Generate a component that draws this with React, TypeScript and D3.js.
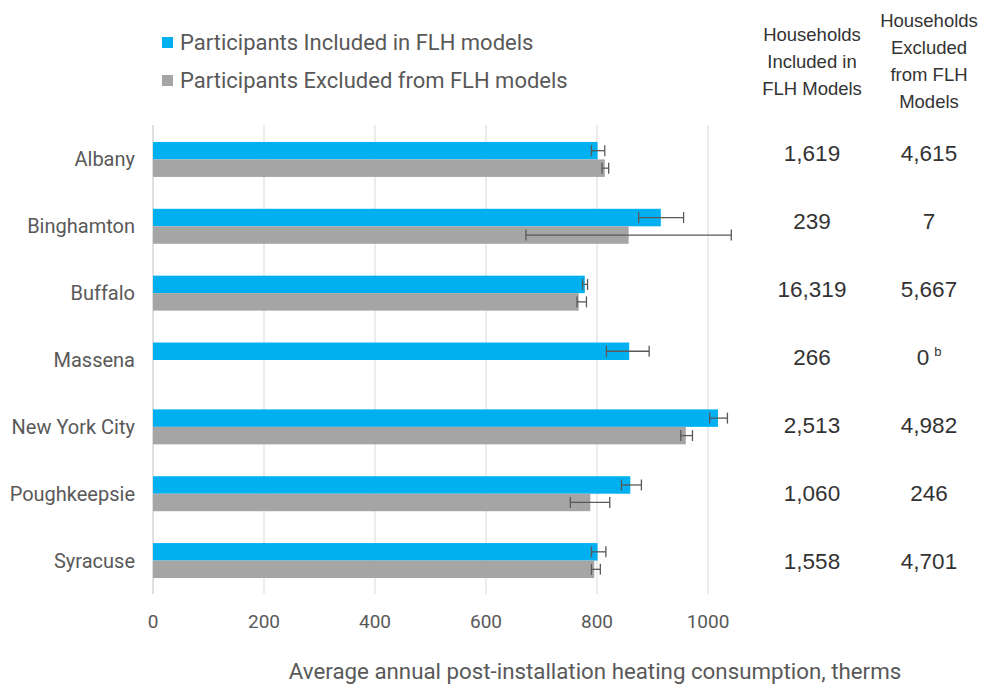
import React from "react";
import * as d3 from "d3";

const categories = ["Albany", "Binghamton", "Buffalo", "Massena", "New York City", "Poughkeepsie", "Syracuse"];
const includedMean = [801, 915, 778, 858, 1018, 860, 801];
const includedLow = [790, 875, 774, 817, 1003, 844, 790];
const includedHigh = [814, 956, 783, 894, 1035, 880, 816];
const excludedMean: (number | null)[] = [814, 857, 767, null, 960, 788, 795];
const excludedLow: (number | null)[] = [809, 672, 764, null, 951, 752, 790];
const excludedHigh: (number | null)[] = [821, 1042, 781, null, 972, 823, 806];
const householdsIncluded = ["1,619", "239", "16,319", "266", "2,513", "1,060", "1,558"];
const householdsExcluded = ["4,615", "7", "5,667", "0", "4,982", "246", "4,701"];
const householdsExcludedNote = ["", "", "", "b", "", "", ""];
const xTicks = [0, 200, 400, 600, 800, 1000];
const seriesNames = ["Participants Included in FLH models", "Participants Excluded from FLH models"];
const seriesColors = ["#00B0F0", "#A5A5A5"];
const headerIncluded = ["Households", "Included in", "FLH Models"];
const headerExcluded = ["Households", "Excluded", "from FLH", "Models"];
const axisTitle = "Average annual post-installation heating consumption, therms";

const W = 984;
const H = 684;
const FONT = "Roboto, 'Liberation Sans', Arial, sans-serif";
const TFONT = "'Liberation Sans', Arial, sans-serif";

export default function App() {
  const x = d3.scaleLinear().domain([0, 1000]).range([153, 708]);
  const y = d3.scaleBand<string>().domain(categories).range([126, 594]).paddingInner(0.477).paddingOuter(0.2385);
  const sub = d3.scaleBand<string>().domain(["inc", "exc"]).range([0, y.bandwidth()]);
  const rowY = d3.scaleLinear().domain([0, categories.length - 1]).range([153.5, 561.5]);
  const bh = sub.bandwidth();
  const cap = 11;
  const errColor = "#595959";

  const errBar = (lo: number, hi: number, cy: number, key: string) => (
    <g key={key} stroke={errColor} strokeWidth={1.3}>
      <line x1={x(lo)} x2={x(hi)} y1={cy} y2={cy} />
      <line x1={x(lo)} x2={x(lo)} y1={cy - cap / 2} y2={cy + cap / 2} />
      <line x1={x(hi)} x2={x(hi)} y1={cy - cap / 2} y2={cy + cap / 2} />
    </g>
  );

  return (
    <svg width={W} height={H} style={{ position: "absolute", left: 0, top: 0, background: "#fff" }}>
      <rect x={0} y={0} width={W} height={H} fill="#fff" />
      {xTicks.map((t) => (
        <line key={"g" + t} x1={x(t)} x2={x(t)} y1={125} y2={594} stroke={t === 0 ? "#BFBFBF" : "#D9D9D9"} strokeWidth={1} />
      ))}
      {xTicks.map((t) => (
        <text key={"t" + t} x={x(t)} y={621} textAnchor="middle" dominantBaseline="central" fontFamily={FONT} fontSize={19} fill="#595959">
          {t}
        </text>
      ))}
      <text x={595} y={671} textAnchor="middle" dominantBaseline="central" fontFamily={FONT} fontSize={22.3} fill="#595959">
        {axisTitle}
      </text>
      {categories.map((c, i) => {
        const y0 = y(c)!;
        const yi = y0 + sub("inc")!;
        const ye = y0 + sub("exc")!;
        const em = excludedMean[i];
        return (
          <g key={c}>
            <rect x={x(0)} y={yi} width={x(includedMean[i]) - x(0)} height={bh} fill={seriesColors[0]} />
            {em !== null && <rect x={x(0)} y={ye} width={x(em) - x(0)} height={bh} fill={seriesColors[1]} />}
            {errBar(includedLow[i], includedHigh[i], yi + bh / 2, "ei" + i)}
            {em !== null && errBar(excludedLow[i] as number, excludedHigh[i] as number, ye + bh / 2, "ee" + i)}
            <text x={135} y={y0 + y.bandwidth() / 2} textAnchor="end" dominantBaseline="central" fontFamily={FONT} fontSize={20} fill="#595959">
              {c}
            </text>
          </g>
        );
      })}
      {seriesNames.map((s, i) => (
        <g key={s}>
          <rect x={162} y={37 + i * 38} width={11} height={11} fill={seriesColors[i]} />
          <text x={180} y={42.5 + i * 38} dominantBaseline="central" fontFamily={FONT} fontSize={22} fill="#595959">
            {s}
          </text>
        </g>
      ))}
      {headerIncluded.map((h, i) => (
        <text key={"hi" + i} x={812} y={34 + i * 27} textAnchor="middle" dominantBaseline="central" fontFamily={TFONT} fontSize={18.5} fill="#333">
          {h}
        </text>
      ))}
      {headerExcluded.map((h, i) => (
        <text key={"he" + i} x={929} y={20 + i * 27.3} textAnchor="middle" dominantBaseline="central" fontFamily={TFONT} fontSize={18.5} fill="#333">
          {h}
        </text>
      ))}
      {categories.map((c, i) => (
        <g key={"row" + c}>
          <text x={812} y={rowY(i)} textAnchor="middle" dominantBaseline="central" fontFamily={TFONT} fontSize={22.5} fill="#333">
            {householdsIncluded[i]}
          </text>
          <text x={929} y={rowY(i)} textAnchor="middle" dominantBaseline="central" fontFamily={TFONT} fontSize={22.5} fill="#333">
            {householdsExcluded[i]}
            {householdsExcludedNote[i] && (
              <tspan dx={5} dy={-7} fontSize={13}>
                {householdsExcludedNote[i]}
              </tspan>
            )}
          </text>
        </g>
      ))}
    </svg>
  );
}
